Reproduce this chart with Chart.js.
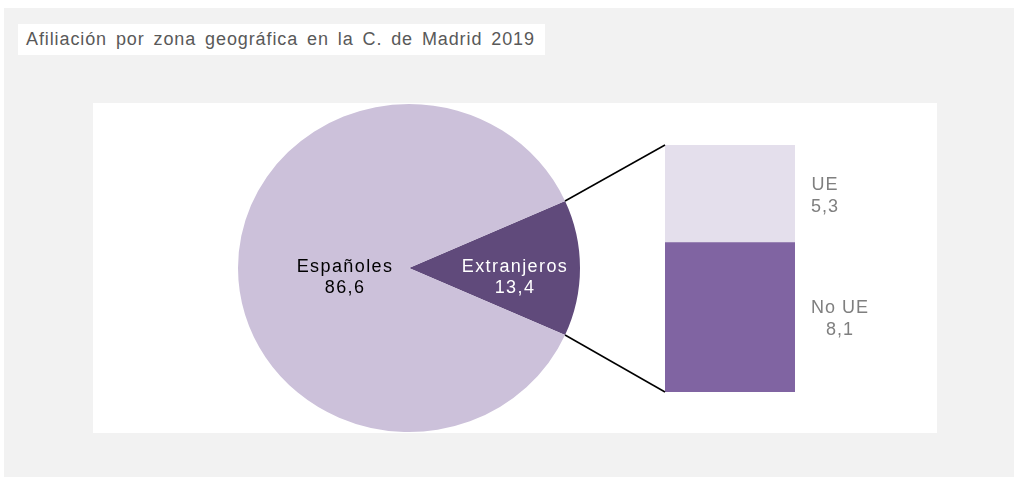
<!DOCTYPE html>
<html>
<head>
<meta charset="utf-8">
<script src="https://cdn.jsdelivr.net/npm/chart.js@4.4.1/dist/chart.umd.min.js"></script>
<style>
  html, body { margin: 0; padding: 0; }
  body { width: 1014px; height: 477px; position: relative; overflow: hidden; background: #ffffff; }
  #panel { position: absolute; left: 4px; top: 8px; right: 0; bottom: 0; background: #f2f2f2; }
  #plot { position: absolute; left: 93px; top: 103px; width: 844px; height: 330px; background: #ffffff; }
  #title { position: absolute; left: 18px; top: 24px; width: 519px; height: 31px; padding-left: 8px;
           background: #ffffff; color: #595959; font: 18px 'Liberation Sans', Arial, sans-serif;
           line-height: 31px; letter-spacing: 0.9px; word-spacing: 3px; white-space: nowrap; }
  canvas { position: absolute; left: 0; top: 0; }
</style>
</head>
<body>
<div id="panel"></div>
<div id="plot"></div>
<div id="title"></div>
<canvas id="pie" width="1014" height="477"></canvas>
<canvas id="bar" width="1014" height="477"></canvas>
<script>
// ---- data ----
const titleText = 'Afiliación por zona geográfica en la C. de Madrid 2019';
const pieLabels = ['Extranjeros', 'Españoles'];
const pieValues = [13.4, 86.6];
const barCategory = ['Extranjeros'];
const barLabels = ['No UE', 'UE'];
const barValues = [8.1, 5.3];

// ---- styles ----
const pieColors = ['#604a7b', '#ccc1da'];
const pieTextColors = ['#ffffff', '#000000'];
const barColors = ['#8064a2', '#e4dfec'];
const barTextColor = '#7f7f7f';
const FONT = "'Liberation Sans', Arial, sans-serif";
const SX = 171 / 164; // horizontal stretch of the pie (ellipse as in reference)
const fmt = v => v.toFixed(1).replace('.', ',');

document.getElementById('title').textContent = titleText;

const pieTotal = pieValues.reduce((a, b) => a + b, 0);
const barTotal = Math.round(barValues.reduce((a, b) => a + b, 0) * 10) / 10;

const ellipsePlugin = {
  id: 'ellipse',
  beforeDatasetsDraw(chart) {
    const arc = chart.getDatasetMeta(0).data[0];
    const ctx = chart.ctx;
    ctx.save();
    ctx.translate(arc.x, arc.y);
    ctx.scale(SX, 1);
    ctx.translate(-arc.x, -arc.y);
  },
  afterDatasetsDraw(chart, args, opts) {
    const ctx = chart.ctx;
    ctx.restore();
    const meta = chart.getDatasetMeta(0);
    meta.data.forEach((arc, i) => {
      const mid = (arc.startAngle + arc.endAngle) / 2;
      const r = arc.outerRadius * opts.labelRadius[i];
      const x = arc.x + Math.cos(mid) * r * SX;
      const y = arc.y + Math.sin(mid) * r + opts.dy;
      ctx.save();
      ctx.font = '18px ' + FONT;
      ctx.letterSpacing = '1.4px';
      ctx.fillStyle = pieTextColors[i];
      ctx.textAlign = 'center';
      ctx.textBaseline = 'alphabetic';
      ctx.fillText(pieLabels[i], x, y - 4);
      ctx.fillText(fmt(pieValues[i]), x, y + 17);
      ctx.restore();
    });
  }
};

const pieChart = new Chart(document.getElementById('pie'), {
  type: 'pie',
  data: {
    labels: pieLabels,
    datasets: [{
      data: pieValues,
      backgroundColor: pieColors,
      borderWidth: 0,
      clip: false
    }]
  },
  options: {
    responsive: false,
    animation: false,
    events: [],
    rotation: 90 - (pieValues[0] / pieTotal) * 180,
    layout: { padding: { left: 245, top: 104, right: 441, bottom: 45 } },
    plugins: {
      legend: { display: false },
      tooltip: { enabled: false },
      ellipse: { labelRadius: [0.62, 0.374], dy: 8 }
    }
  },
  plugins: [ellipsePlugin]
});

const barPlugin = {
  id: 'barExtras',
  afterDatasetsDraw(chart) {
    const ctx = chart.ctx;
    const arc = pieChart.getDatasetMeta(0).data[0];
    const topBar = chart.getDatasetMeta(chart.data.datasets.length - 1).data[0];
    const bottomBar = chart.getDatasetMeta(0).data[0];
    const left = topBar.x - topBar.width / 2;
    const links = [[arc.startAngle, topBar.y], [arc.endAngle, bottomBar.base]];
    ctx.save();
    ctx.strokeStyle = '#000000';
    ctx.lineWidth = 1.5;
    links.forEach(([a, yy]) => {
      ctx.beginPath();
      ctx.moveTo(arc.x + Math.cos(a) * arc.outerRadius * SX, arc.y + Math.sin(a) * arc.outerRadius);
      ctx.lineTo(left, yy);
      ctx.stroke();
    });
    ctx.restore();

    chart.data.datasets.forEach((ds, i) => {
      const el = chart.getDatasetMeta(i).data[0];
      const right = el.x + el.width / 2;
      const cy = (el.y + el.base) / 2;
      ctx.save();
      ctx.font = '18px ' + FONT;
      ctx.letterSpacing = '1px';
      ctx.fillStyle = barTextColor;
      ctx.textAlign = 'center';
      ctx.textBaseline = 'alphabetic';
      const l1 = ds.label, l2 = fmt(ds.data[0]);
      const w = Math.max(ctx.measureText(l1).width, ctx.measureText(l2).width);
      const cx = right + 16 + w / 2;
      ctx.fillText(l1, cx, cy - 4);
      ctx.fillText(l2, cx, cy + 18);
      ctx.restore();
    });
  }
};

new Chart(document.getElementById('bar'), {
  type: 'bar',
  data: {
    labels: barCategory,
    datasets: barLabels.map((l, i) => ({
      label: l,
      data: [barValues[i]],
      backgroundColor: barColors[i],
      borderWidth: 0,
      barPercentage: 1,
      categoryPercentage: 1
    }))
  },
  options: {
    responsive: false,
    animation: false,
    events: [],
    layout: { padding: { left: 665, right: 219, top: 145, bottom: 85 } },
    plugins: { legend: { display: false }, tooltip: { enabled: false } },
    scales: {
      x: { display: false, stacked: true },
      y: { display: false, stacked: true, min: 0, max: barTotal }
    }
  },
  plugins: [barPlugin]
});
</script>
</body>
</html>
